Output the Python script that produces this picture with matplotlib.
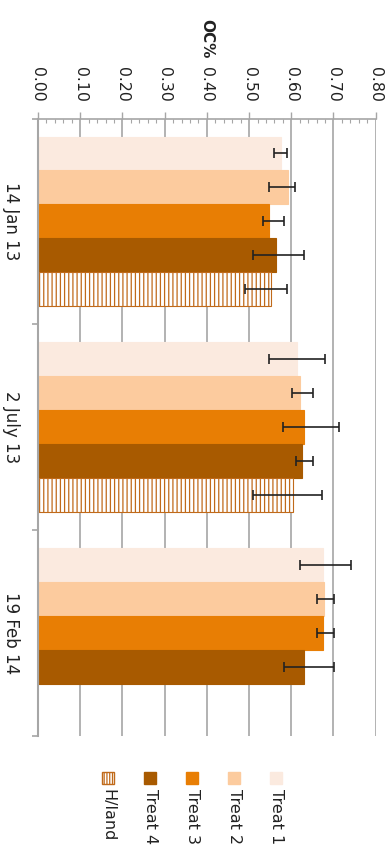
import matplotlib

matplotlib.use("Agg")

import matplotlib.pyplot as plt
import numpy as np
from matplotlib.patches import Rectangle
from matplotlib.ticker import MultipleLocator, FixedLocator, NullFormatter

plt.rcParams["font.family"] = ["DejaVu Sans"]
plt.rcParams["hatch.linewidth"] = 0.9

dates = ["14 Jan 13", "2 July 13", "19 Feb 14"]
series = ["Treat 1", "Treat 2", "Treat 3", "Treat 4", "H/land"]

treat1 = [0.576, 0.614, 0.676]
treat2 = [0.592, 0.620, 0.678]
treat3 = [0.547, 0.629, 0.675]
treat4 = [0.564, 0.626, 0.631]
hland = [0.552, 0.604, np.nan]

# lower / upper ends of the error bars
treat1_lo = [0.559, 0.548, 0.621]
treat1_hi = [0.591, 0.680, 0.742]
treat2_lo = [0.548, 0.601, 0.660]
treat2_hi = [0.610, 0.652, 0.701]
treat3_lo = [0.532, 0.580, 0.660]
treat3_hi = [0.583, 0.712, 0.701]
treat4_lo = [0.510, 0.611, 0.582]
treat4_hi = [0.630, 0.652, 0.701]
hland_lo = [0.491, 0.510, np.nan]
hland_hi = [0.591, 0.672, np.nan]

x_ticks = [0.0, 0.1, 0.2, 0.3, 0.4, 0.5, 0.6, 0.7, 0.8]

values = [treat1, treat2, treat3, treat4, hland]
lows = [treat1_lo, treat2_lo, treat3_lo, treat4_lo, hland_lo]
highs = [treat1_hi, treat2_hi, treat3_hi, treat4_hi, hland_hi]
fills = ["#FBEADF", "#FCCB9E", "#E87E04", "#A85A00", "white"]
edges = ["#FBEADF", "#FCCB9E", "#E87E04", "#A85A00", "#C06A1A"]
hatches = [None, None, None, None, "||||"]

W, H = 391, 852
fig = plt.figure(figsize=(W / 100, H / 100), dpi=100)
ax = fig.add_axes([38 / W, 1 - 736 / H, (375.7 - 38) / W, (736 - 118.5) / H])

grey = "#A6A6A6"
slot = 0.165
start = (1 - slot * len(series)) / 2
cats = np.arange(len(dates))

for j, name in enumerate(series):
    v = np.array(values[j], dtype=float)
    lo = np.array(lows[j], dtype=float)
    hi = np.array(highs[j], dtype=float)
    y = cats + start + slot * (j + 0.5)
    ax.barh(y, v, height=slot, color=fills[j], edgecolor=edges[j],
            hatch=hatches[j], linewidth=0.8, zorder=2)
    ax.errorbar(v, y, xerr=[v - lo, hi - v], fmt="none", ecolor="#222222",
                elinewidth=1.2, capsize=3.6, capthick=1.2, zorder=3)

ax.set_xlim(0, 0.8)
ax.set_ylim(len(dates), 0)

ax.xaxis.tick_top()
ax.xaxis.set_label_position("top")
ax.set_xticks(x_ticks)
ax.set_xticklabels([f"{t:.2f}" for t in x_ticks])
ax.xaxis.set_minor_locator(MultipleLocator(0.02))
ax.tick_params(axis="x", which="major", direction="out", length=5, width=1,
               color=grey, labelrotation=-90, labelsize=11.3, pad=7,
               labelcolor="#222222")
ax.tick_params(axis="x", which="minor", direction="in", length=3, width=0.8,
               color=grey, top=True, bottom=False)
ax.set_xlabel("OC%", rotation=-90, fontweight="bold", fontsize=11,
              labelpad=8, color="#222222")
ax.grid(axis="x", which="major", color=grey, linewidth=1.2, zorder=0)
ax.set_axisbelow(True)

ax.yaxis.set_major_locator(FixedLocator(np.arange(len(dates) + 1)))
ax.yaxis.set_major_formatter(NullFormatter())
ax.yaxis.set_minor_locator(FixedLocator(cats + 0.5))
ax.set_yticklabels(dates, minor=True)
ax.tick_params(axis="y", which="major", direction="out", length=4.3,
               width=1.2, color=grey)
ax.tick_params(axis="y", which="minor", length=0, pad=13, labelsize=12,
               labelrotation=-90, labelcolor="#222222")
for lab in ax.get_yticklabels(minor=True):
    lab.set_va("center")

for side in ("right", "bottom"):
    ax.spines[side].set_visible(False)
ax.spines["left"].set_color(grey)
ax.spines["left"].set_linewidth(1.5)
ax.spines["top"].set_color(grey)
ax.spines["top"].set_linewidth(1.2)

# legend laid out along the bottom, text running downwards
legend_order = [4, 3, 2, 1, 0]
for k, j in enumerate(legend_order):
    cx = 108 + 42 * k
    box = Rectangle(((cx - 6) / W, 1 - 784 / H), 12 / W, 12 / H,
                    transform=fig.transFigure, facecolor=fills[j],
                    edgecolor=edges[j], hatch="||||||" if hatches[j] else None,
                    linewidth=1.0)
    fig.add_artist(box)
    fig.text(cx / W, 1 - 789 / H, series[j], rotation=-90, ha="center",
             va="top", fontsize=11.5, color="#222222")

fig.savefig("out.png", dpi=100)
